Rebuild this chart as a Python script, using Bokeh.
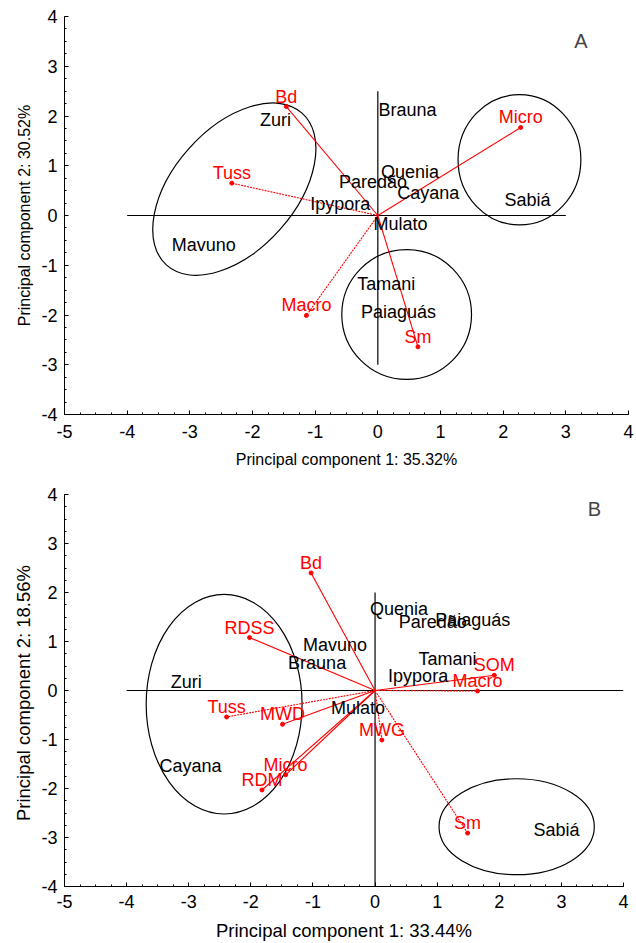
from bokeh.plotting import figure
from bokeh.models import ColumnDataSource, Label, SingleIntervalTicker, PrintfTickFormatter
from bokeh.layouts import column
from bokeh.embed import file_html
from bokeh.resources import INLINE
from bokeh.core.properties import value

FONT = "Liberation Sans"
RED = "#ff0000"

# ---------------- Panel A data ----------------
a_geno = ["Zuri", "Mavuno", "Brauna", "Quenia", "Paredão", "Cayana",
          "Ipypora", "Mulato", "Sabiá", "Tamani", "Paiaguás"]
a_geno_x = [-1.88, -3.29, 0.01, 0.05, -0.62, 0.31, -1.08, -0.07, 2.02, -0.33, -0.27]
a_geno_y = [1.91, -0.60, 2.12, 0.87, 0.67, 0.45, 0.23, -0.18, 0.32, -1.37, -1.94]

a_var = ["Bd", "Tuss", "Macro", "Micro", "Sm"]
a_var_x = [-1.46, -2.33, -1.14, 2.28, 0.64]
a_var_y = [2.19, 0.65, -2.01, 1.77, -2.64]

a_ell_x = [-2.29, 2.26, 0.46]
a_ell_y = [0.53, 1.12, -1.99]
a_ell_w = [3.25, 1.96, 2.07]
a_ell_h = [2.45, 2.62, 2.61]
a_ell_angle = [48.3, 0.0, 0.0]

a_xlabel = "Principal component 1: 35.32%"
a_ylabel = "Principal component 2: 30.52%"

# ---------------- Panel B data ----------------
b_geno = ["Zuri", "Cayana", "Mavuno", "Brauna", "Mulato", "Quenia",
          "Paredão", "Paiaguás", "Tamani", "Ipypora", "Sabiá"]
b_geno_x = [-3.29, -3.47, -1.16, -1.40, -0.71, -0.08, 0.38, 0.97, 0.70, 0.21, 2.55]
b_geno_y = [0.17, -1.55, 0.93, 0.56, -0.35, 1.67, 1.40, 1.43, 0.65, 0.29, -2.84]

b_var = ["Bd", "RDSS", "Tuss", "MWD", "Micro", "RDM", "MWG", "Sm", "SOM", "Macro"]
b_var_x = [-1.03, -2.02, -2.39, -1.49, -1.44, -1.82, 0.11, 1.49, 1.92, 1.65]
b_var_y = [2.40, 1.08, -0.54, -0.69, -1.72, -2.03, -1.01, -2.91, 0.31, -0.01]

b_ell_x = [-2.43, 2.28]
b_ell_y = [-0.28, -2.78]
b_ell_w = [2.51, 2.50]
b_ell_h = [4.48, 1.96]
b_ell_angle = [0.0, 0.0]

b_xlabel = "Principal component 1: 33.44%"
b_ylabel = "Principal component  2: 18.56%"

# styles (which loading vectors are dotted)
A_DOTTED = {"Tuss", "Macro"}
B_DOTTED = {"Tuss", "MWG", "Sm", "Macro"}


def make_panel(geno, gx, gy, var, vx, vy, dotted, ex, ey, ew, eh, ea,
               hseg, vseg, xlabel, ylabel, letter, letter_pos,
               fw, fh, borders, axis_font_size, xstand, xlabstand, ylabstand):
    left, right, top, bottom = borders
    p = figure(frame_width=fw, frame_height=fh, x_range=(-5, 4), y_range=(-4, 4),
               output_backend="svg", toolbar_location=None,
               min_border_left=left, min_border_right=right,
               min_border_top=top, min_border_bottom=bottom)
    p.grid.visible = False
    p.outline_line_color = None
    p.background_fill_color = "white"
    p.border_fill_color = "white"

    for ax in (p.xaxis[0], p.yaxis[0]):
        ax.ticker = SingleIntervalTicker(interval=1, num_minor_ticks=4)
        ax.formatter = PrintfTickFormatter(format="%d")
        ax.major_tick_in = 4
        ax.major_tick_out = 0
        ax.minor_tick_in = 2
        ax.minor_tick_out = 0
        ax.axis_line_color = "black"
        ax.major_tick_line_color = "black"
        ax.minor_tick_line_color = "black"
        ax.major_label_text_font = FONT
        ax.major_label_text_font_size = "18px"
        ax.major_label_text_color = "black"
        ax.axis_label_text_font = FONT
        ax.axis_label_text_font_size = axis_font_size
        ax.axis_label_text_font_style = "normal"
        ax.axis_label_text_color = "black"
    p.xaxis.axis_label = xlabel
    p.yaxis.axis_label = ylabel
    p.xaxis.major_label_standoff = xstand
    p.yaxis.major_label_standoff = 7
    p.xaxis.axis_label_standoff = xlabstand
    p.yaxis.axis_label_standoff = ylabstand

    # reference axes through the origin
    p.segment(x0=[hseg[0]], y0=[0], x1=[hseg[1]], y1=[0], line_color="black", line_width=1.2)
    p.segment(x0=[0], y0=[vseg[0]], x1=[0], y1=[vseg[1]], line_color="black", line_width=1.2)

    # group ellipses
    p.ellipse(x=ex, y=ey, width=ew, height=eh, angle=ea, angle_units="deg",
              fill_color=None, line_color="black", line_width=1.2)

    # loading vectors
    solid = ColumnDataSource(dict(
        x1=[x for n, x in zip(var, vx) if n not in dotted],
        y1=[y for n, y in zip(var, vy) if n not in dotted]))
    dots = ColumnDataSource(dict(
        x1=[x for n, x in zip(var, vx) if n in dotted],
        y1=[y for n, y in zip(var, vy) if n in dotted]))
    p.segment(x0=0, y0=0, x1="x1", y1="y1", source=solid, line_color=RED, line_width=1.1)
    p.segment(x0=0, y0=0, x1="x1", y1="y1", source=dots, line_color=RED, line_width=1.1,
              line_dash="2 1")
    vsrc = ColumnDataSource(dict(x=vx, y=vy, t=var))
    p.scatter(x="x", y="y", source=vsrc, size=4, color=RED)
    p.text(x="x", y="y", text="t", source=vsrc, text_color=RED,
           text_font=value(FONT), text_font_size="18px", text_align="center",
           text_baseline="middle", y_offset=-10)

    # genotype labels
    gsrc = ColumnDataSource(dict(x=gx, y=gy, t=geno))
    p.text(x="x", y="y", text="t", source=gsrc, text_color="black",
           text_font=value(FONT), text_font_size="18px", text_align="left",
           text_baseline="middle")

    p.add_layout(Label(x=letter_pos[0], y=letter_pos[1], text=letter,
                       text_font=FONT, text_font_size="20px",
                       text_align="center", text_baseline="middle"))
    return p


pA = make_panel(a_geno, a_geno_x, a_geno_y, a_var, a_var_x, a_var_y, A_DOTTED,
                a_ell_x, a_ell_y, a_ell_w, a_ell_h, a_ell_angle,
                (-4, 3), (-3, 2.5), a_xlabel, a_ylabel, "A", (3.24, 3.51),
                564, 398, (62, 10, 16, 56), "16px", 10, 10, 5)
pB = make_panel(b_geno, b_geno_x, b_geno_y, b_var, b_var_x, b_var_y, B_DOTTED,
                b_ell_x, b_ell_y, b_ell_w, b_ell_h, b_ell_angle,
                (-4, 4), (-4, 2), b_xlabel, b_ylabel, "B", (3.53, 3.71),
                559, 392, (64, 13, 24, 56), "18.5px", 8, 9, 4)

layout = column(pA, pB)
open("out.html", "w").write(file_html(layout, INLINE))
